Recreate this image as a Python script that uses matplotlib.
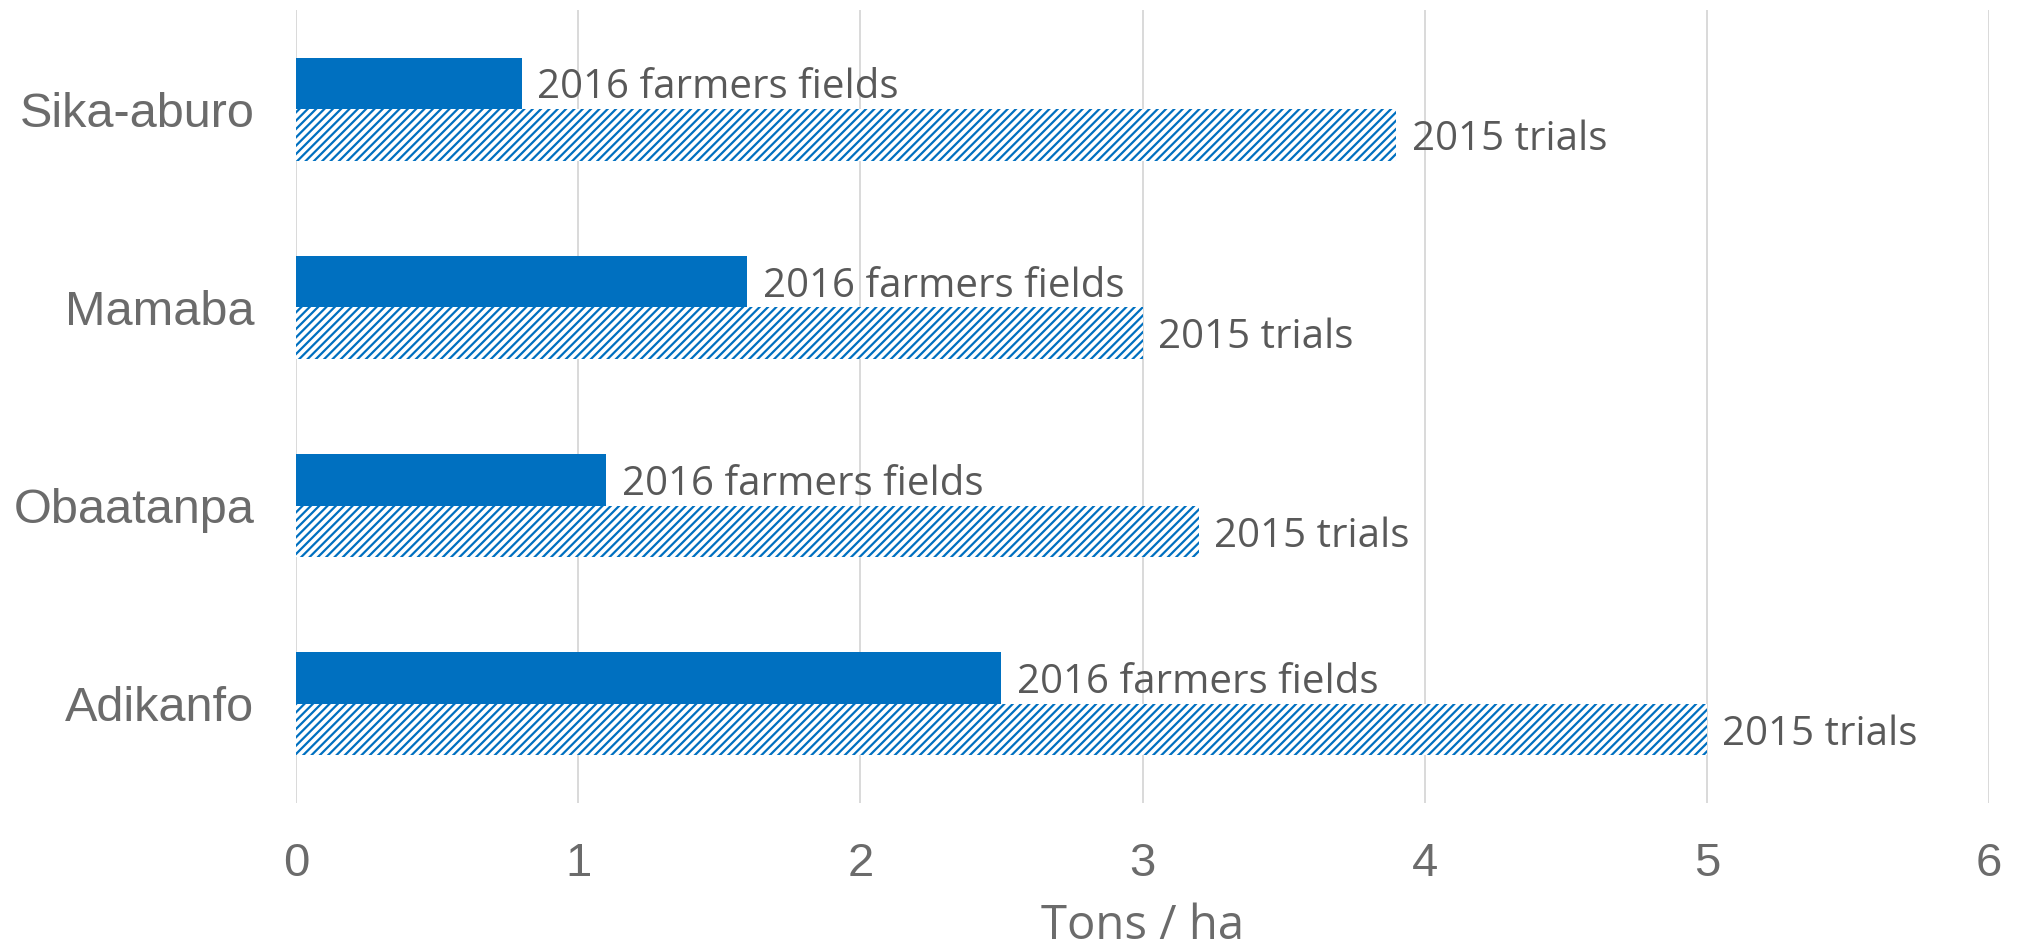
import matplotlib
matplotlib.use("Agg")
import matplotlib.pyplot as plt
import numpy as np

varieties = ["Adikanfo", "Obaatanpa", "Mamaba", "Sika-aburo"]
farmers_2016 = [2.5, 1.1, 1.6, 0.8]
trials_2015 = [5.0, 3.2, 3.0, 3.9]
label_2016 = "2016 farmers fields"
label_2015 = "2015 trials"
x_ticks = [0, 1, 2, 3, 4, 5, 6]

BLUE = "#0070C0"
TICK_GRAY = "#6b6b6b"
LABEL_GRAY = "#595959"
GRID = "#d9d9d9"

plt.rcParams["hatch.linewidth"] = 1.6

fig = plt.figure(figsize=(20.19, 9.5), dpi=100)
ax = fig.add_axes([296 / 2019, 1 - 803 / 950, (1989 - 296) / 2019, (803 - 10) / 950])

y = np.arange(len(varieties))
height = 0.26
ax.barh(y + height / 2, farmers_2016, height=height, color=BLUE, linewidth=0, zorder=3)
ax.barh(y - height / 2, trials_2015, height=height, color="white", edgecolor=BLUE,
        hatch="////", linewidth=0, zorder=3)

# value labels sit just right of each bar, visually centred on it
for yi, v in zip(y, farmers_2016):
    ax.annotate(label_2016, (v, yi + height / 2), xytext=(11, -3.5), textcoords="offset points",
                va="center", ha="left", fontsize=29, family="Open Sans", color=LABEL_GRAY)
for yi, v in zip(y, trials_2015):
    ax.annotate(label_2015, (v, yi - height / 2), xytext=(11, -3.5), textcoords="offset points",
                va="center", ha="left", fontsize=29, family="Open Sans", color=LABEL_GRAY)

ax.set_xlim(0, 6)
ax.set_ylim(-0.5, len(varieties) - 0.5)
ax.set_xticks(x_ticks)
ax.set_xticklabels([str(t) for t in x_ticks], family="Liberation Sans", fontsize=34, color=TICK_GRAY)
ax.set_yticks(y)
ax.set_yticklabels(varieties, family="Liberation Sans", fontsize=35, color=TICK_GRAY)
ax.tick_params(axis="x", length=0, pad=28)
ax.tick_params(axis="y", length=0, pad=30)
ax.set_xlabel("Tons / ha", family="Open Sans", fontsize=34, color=TICK_GRAY, labelpad=12)

ax.grid(axis="x", color=GRID, linewidth=1.4, zorder=0)
ax.set_axisbelow(True)
for side in ["top", "right", "bottom", "left"]:
    ax.spines[side].set_visible(False)

fig.savefig("out.png", dpi=100)
